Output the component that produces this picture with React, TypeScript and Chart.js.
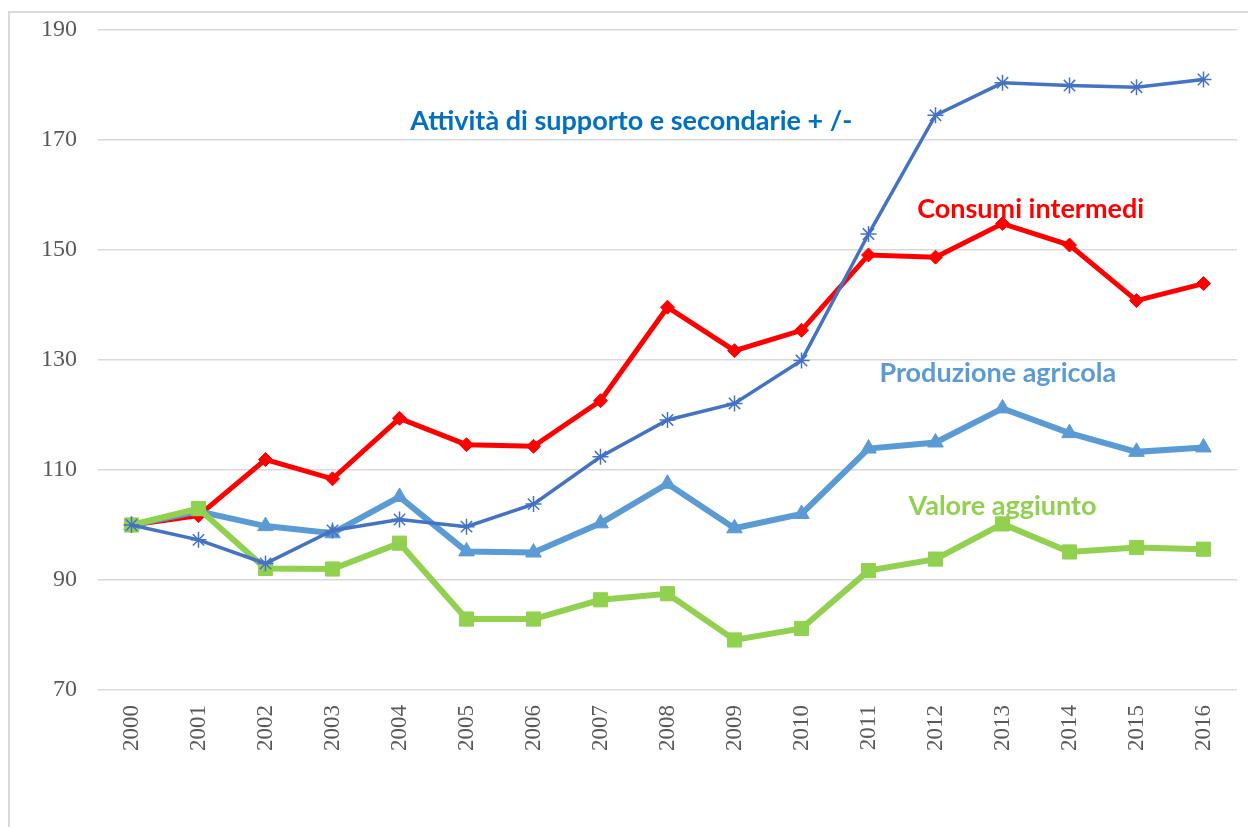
import React, { useEffect, useRef } from "react";
import { Chart, registerables } from "chart.js";

Chart.register(...registerables);

const years = ["2000","2001","2002","2003","2004","2005","2006","2007","2008","2009","2010","2011","2012","2013","2014","2015","2016"];
const attivita = [100, 97.3, 93.0, 99.0, 101.0, 99.7, 103.8, 112.4, 119.1, 122.1, 129.9, 152.9, 174.5, 180.4, 179.9, 179.6, 181.0];
const consumi = [100, 101.7, 111.9, 108.4, 119.4, 114.6, 114.3, 122.6, 139.6, 131.7, 135.4, 149.1, 148.7, 154.8, 150.9, 140.8, 143.9];
const produzione = [100, 102.5, 99.8, 98.5, 105.1, 95.2, 95.0, 100.3, 107.5, 99.4, 102.0, 113.9, 115.0, 121.2, 116.7, 113.3, 114.1];
const valore = [100, 103.0, 92.1, 92.0, 96.7, 82.9, 82.9, 86.4, 87.5, 79.1, 81.2, 91.7, 93.8, 100.2, 95.1, 95.9, 95.6];

const yMin = 70;
const yMax = 190;
const yStep = 20;

// label text, colour, category-position, value-position (baseline)
const labelTexts = ["Attività di supporto e secondarie + /-", "Consumi intermedi", "Produzione agricola", "Valore aggiunto"];
const labelColors = ["#0070C0", "#FF0000", "#5B9BD5", "#92D050"];
const labelX = [7.46, 13.42, 12.93, 13.0];
const labelY = [171.8, 155.8, 126.05, 101.9];

const labelPlugin = {
  id: "seriesLabels",
  afterDatasetsDraw(chart: any) {
    const { ctx, scales } = chart;
    ctx.save();
    ctx.font = "bold 27px Lato";
    ctx.textAlign = "center";
    ctx.textBaseline = "alphabetic";
    labelTexts.forEach((t, i) => {
      ctx.fillStyle = labelColors[i];
      ctx.fillText(t, scales.x.getPixelForValue(labelX[i]), scales.y.getPixelForValue(labelY[i]));
    });
    ctx.restore();
  },
};

export default function App() {
  const ref = useRef<HTMLCanvasElement | null>(null);
  useEffect(() => {
    if (!ref.current) return;
    const chart = new Chart(ref.current, {
      type: "line",
      data: {
        labels: years,
        datasets: [
          {
            label: "Attività di supporto e secondarie + /-",
            data: attivita,
            borderColor: "#4472C4",
            backgroundColor: "#4472C4",
            borderWidth: 3.5,
            pointStyle: "star",
            pointRadius: 8,
            pointBorderWidth: 1.5,
            pointBorderColor: "#4472C4",
            tension: 0,
          },
          {
            label: "Valore aggiunto",
            data: valore,
            borderColor: "#92D050",
            backgroundColor: "#92D050",
            borderWidth: 6,
            pointStyle: "rect",
            pointRadius: 10,
            pointBorderWidth: 1,
            tension: 0,
          },
          {
            label: "Produzione agricola",
            data: produzione,
            borderColor: "#5B9BD5",
            backgroundColor: "#5B9BD5",
            borderWidth: 6,
            pointStyle: "triangle",
            pointRadius: 9,
            pointBorderWidth: 1,
            tension: 0,
          },
          {
            label: "Consumi intermedi",
            data: consumi,
            borderColor: "#FF0000",
            backgroundColor: "#FF0000",
            borderWidth: 5,
            pointStyle: "rectRot",
            pointRadius: 7,
            pointBorderWidth: 1,
            tension: 0,
          },
        ],
      },
      options: {
        animation: false,
        responsive: false,
        maintainAspectRatio: false,
        layout: { padding: { top: 30, right: 11, left: 0, bottom: 0 } },
        plugins: { legend: { display: false }, tooltip: { enabled: false } },
        scales: {
          x: {
            offset: true,
            grid: { display: false, drawTicks: false },
            border: { display: false },
            ticks: {
              minRotation: 90,
              maxRotation: 90,
              padding: 15,
              color: "#595959",
              font: { family: "Liberation Serif", size: 23 },
            },
            afterFit(scale: any) {
              scale.height = 137;
              scale.paddingLeft = 0;
              scale.paddingRight = 0;
            },
          },
          y: {
            min: yMin,
            max: yMax,
            ticks: {
              stepSize: yStep,
              padding: 21,
              color: "#595959",
              font: { family: "Liberation Serif", size: 24 },
            },
            grid: { color: "#D9D9D9", lineWidth: 1.5, drawTicks: false },
            border: { display: false },
            afterFit(scale: any) {
              scale.width = 98;
              scale.paddingTop = 0;
              scale.paddingBottom = 0;
            },
          },
        },
      },
      plugins: [labelPlugin],
    });
    return () => chart.destroy();
  }, []);

  return (
    <div style={{ position: "fixed", left: 0, top: 0, width: 1248, height: 827, background: "#fff", overflow: "hidden" }}>
      <div
        style={{
          position: "absolute",
          left: 8,
          top: 11,
          width: 1300,
          height: 900,
          borderLeft: "2px solid #D9D9D9",
          borderTop: "2px solid #D9D9D9",
        }}
      />
      <canvas ref={ref} width={1248} height={827} style={{ position: "absolute", left: 0, top: 0 }} />
    </div>
  );
}
